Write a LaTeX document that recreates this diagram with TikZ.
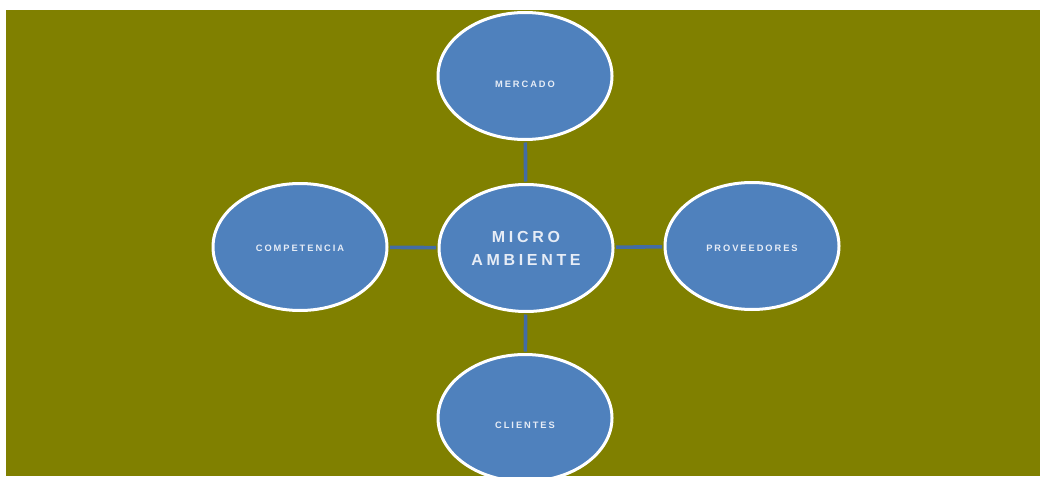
\documentclass[tikz,border=0pt]{standalone}
\usepackage{fontspec}
\setmainfont{Liberation Sans}
\newfontfamily\smalllabel[LetterSpace=21]{Liberation Sans Bold}
\newfontfamily\biglabel[LetterSpace=23]{Liberation Sans Bold}
\usetikzlibrary{shapes.geometric}
\definecolor{olivebg}{HTML}{808000}
\definecolor{bubble}{HTML}{4F81BD}
\definecolor{linkblue}{HTML}{436CA4}
\definecolor{labelwhite}{HTML}{E6ECF6}
\newcommand{\lowered}[2]{\raisebox{#1}[0pt][0pt]{#2}}
\tikzset{
  bubblebox/.style={ellipse, draw=white, line width=3pt, fill=bubble,
    minimum width=174pt, minimum height=127pt, inner sep=0pt,
    text=labelwhite, align=center},
  smalltext/.style={font=\smalllabel\fontsize{9.3}{11}\selectfont},
  bigtext/.style={font=\biglabel\fontsize{16}{23}\selectfont},
  link/.style={draw=linkblue, line width=3.6pt, shorten <=1.5pt, shorten >=1.5pt}
}
\begin{document}
\begin{tikzpicture}[x=1pt,y=-1pt]
  \useasboundingbox (0,0) rectangle (1040,476);
  \fill[white] (0,0) rectangle (1040,476);
  \fill[olivebg] (6,10) rectangle (1040,476);
  % outer ring of topics round the centre
  \node[bubblebox, smalltext] (mercado) at (525,76) {\lowered{-12pt}{MERCADO}};
  \node[bubblebox, smalltext] (competencia) at (300,247) {\lowered{-4pt}{COMPETENCIA}};
  \node[bubblebox, smalltext] (proveedores) at (752,246) {\lowered{-5pt}{PROVEEDORES}};
  \node[bubblebox, smalltext] (clientes) at (525,418) {\lowered{-10pt}{CLIENTES}};
  % centre topic
  \node[bubblebox, bigtext] (micro) at (526,248) {MICRO\\AMBIENTE};
  % spokes
  \draw[link] (mercado) -- (micro);
  \draw[link] (micro) -- (clientes);
  \draw[link] (competencia) -- (micro);
  \draw[link] (micro) -- (proveedores);
\end{tikzpicture}
\end{document}
